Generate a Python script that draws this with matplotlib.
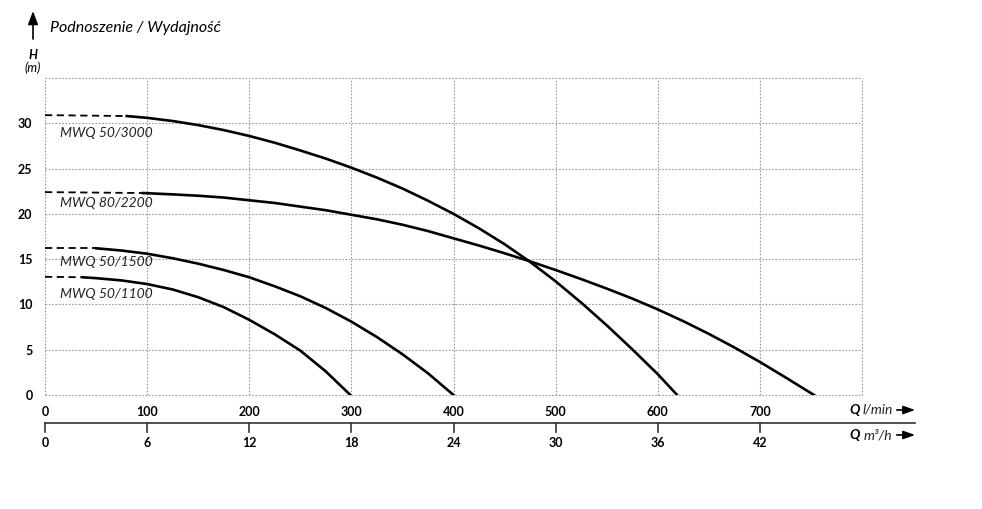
import matplotlib.pyplot as plt
import matplotlib.transforms as mtransforms

plt.rcParams['font.family'] = ['Lato', 'DejaVu Sans']

# pump curves: flow Q [l/min] vs head H [m]
# dashed part (low flow) and solid part
q_3000_dash = [0, 80]
h_3000_dash = [30.9, 30.8]
q_3000 = [80, 100, 125, 150, 175, 200, 225, 250, 275, 300, 325, 350, 375, 400,
          425, 450, 475, 500, 525, 550, 575, 600, 619]
h_3000 = [30.8, 30.6, 30.25, 29.8, 29.25, 28.6, 27.85, 27.0, 26.1, 25.1, 24.0, 22.8,
          21.45, 20.0, 18.4, 16.65, 14.7, 12.55, 10.2, 7.7, 5.05, 2.3, 0]

q_2200_dash = [0, 96]
h_2200_dash = [22.4, 22.3]
q_2200 = [96, 125, 150, 175, 200, 225, 250, 275, 300, 325, 350, 375, 400, 425, 450,
          475, 500, 525, 550, 575, 600, 625, 650, 675, 700, 725, 753]
h_2200 = [22.3, 22.15, 22.0, 21.8, 21.5, 21.2, 20.8, 20.4, 19.9, 19.4, 18.8, 18.1,
          17.3, 16.5, 15.65, 14.75, 13.8, 12.8, 11.75, 10.65, 9.45, 8.15, 6.75, 5.25,
          3.65, 1.95, 0]

q_1500_dash = [0, 50]
h_1500_dash = [16.2, 16.2]
q_1500 = [50, 75, 100, 125, 150, 175, 200, 225, 250, 275, 300, 325, 350, 375, 400]
h_1500 = [16.2, 15.95, 15.6, 15.1, 14.5, 13.8, 13.0, 12.0, 10.9, 9.6, 8.1, 6.4,
          4.5, 2.4, 0]

q_1100_dash = [0, 37]
h_1100_dash = [13.05, 13.0]
q_1100 = [37, 50, 75, 100, 125, 150, 175, 200, 225, 250, 275, 299]
h_1100 = [13.0, 12.9, 12.65, 12.25, 11.65, 10.8, 9.7, 8.3, 6.7, 4.9, 2.6, 0]

curve_names = ["MWQ 50/3000", "MWQ 80/2200", "MWQ 50/1500", "MWQ 50/1100"]
label_h = [28.9, 21.2, 14.7, 11.15]

q_lmin_ticks = [0, 100, 200, 300, 400, 500, 600, 700]
h_ticks = [0, 5, 10, 15, 20, 25, 30]
q_m3h_ticks = [0, 6, 12, 18, 24, 30, 36, 42]

fig = plt.figure(figsize=(9.82, 5.09), dpi=100)
ax = fig.add_axes([45 / 982, 1 - 395 / 509, 817 / 982, 317 / 509])
ax.set_xlim(0, 800)
ax.set_ylim(0, 35)
for s in ax.spines.values():
    s.set_visible(False)

grid_kw = dict(color="#999999", lw=0.8, ls=(0, (1.5, 1.5)), zorder=1, clip_on=False)
for x in range(0, 801, 100):
    ax.axvline(x, **grid_kw)
for y in range(0, 36, 5):
    ax.axhline(y, **grid_kw)

lw = 1.9
dash_kw = dict(color="black", lw=1.3, ls=(0, (4, 2.5)), zorder=3)
line_kw = dict(color="black", lw=lw, zorder=3, solid_joinstyle="round")
ax.plot(q_3000_dash, h_3000_dash, **dash_kw)
ax.plot(q_3000, h_3000, **line_kw)
ax.plot(q_2200_dash, h_2200_dash, **dash_kw)
ax.plot(q_2200, h_2200, **line_kw)
ax.plot(q_1500_dash, h_1500_dash, **dash_kw)
ax.plot(q_1500, h_1500, **line_kw)
ax.plot(q_1100_dash, h_1100_dash, **dash_kw)
ax.plot(q_1100, h_1100, **line_kw)

for name, h in zip(curve_names, label_h):
    ax.text(15, h, name, fontsize=10, style="italic", color="#222222",
            va="center", ha="left", zorder=4)

ax.set_xticks(q_lmin_ticks)
ax.set_xticklabels([str(v) for v in q_lmin_ticks], fontweight="bold", fontsize=9)
ax.set_yticks(h_ticks)
ax.set_yticklabels([str(v) for v in h_ticks], fontweight="bold", fontsize=9)
ax.tick_params(axis="x", length=0, pad=8)
ax.tick_params(axis="y", length=0, pad=9)

# second flow axis in m3/h below
trans = mtransforms.blended_transform_factory(ax.transData, ax.transAxes)
y_line = -28 / 317
ax.plot([0, 852], [y_line, y_line], color="#333333", lw=1.2, transform=trans, clip_on=False)
for v in q_m3h_ticks:
    q = v * 1000 / 60
    ax.plot([q, q], [y_line, y_line - 9 / 317], color="#333333", lw=1.2,
            transform=trans, clip_on=False)
    ax.text(q, y_line - 20 / 317, str(v), transform=trans, ha="center", va="center",
            fontsize=9, fontweight="bold")

# axis units with arrows
for yy, unit in ((-15 / 317, "l/min"), (-40 / 317, "m³/h")):
    ax.text(788, yy, "Q", transform=trans, ha="left", va="center",
            fontsize=10, fontweight="bold", style="italic")
    ax.text(830, yy, unit, transform=trans, ha="right", va="center",
            fontsize=10, style="italic", color="#222222")
    ax.annotate("", xy=(852, yy), xytext=(834, yy), xycoords=trans, textcoords=trans,
                arrowprops=dict(arrowstyle="-|>,head_length=0.7,head_width=0.25",
                                color="black", lw=1.2, shrinkA=0, shrinkB=0))

# title and H label
ax.annotate("", xy=(33 / 982, 1 - 11 / 509), xytext=(33 / 982, 1 - 39 / 509),
            xycoords="figure fraction", textcoords="figure fraction",
            arrowprops=dict(arrowstyle="-|>,head_length=0.8,head_width=0.3",
                            color="black", lw=1.2, shrinkA=0, shrinkB=0))
fig.text(50 / 982, 1 - 28 / 509, "Podnoszenie / Wydajność", fontsize=11.5,
         style="italic", va="center", ha="left")
fig.text(33 / 982, 1 - 55 / 509, "H", fontsize=9, fontweight="bold",
         style="italic", va="center", ha="center")
fig.text(33 / 982, 1 - 68 / 509, "(m)", fontsize=9, style="italic",
         va="center", ha="center")

plt.savefig("out.png", dpi=100)
